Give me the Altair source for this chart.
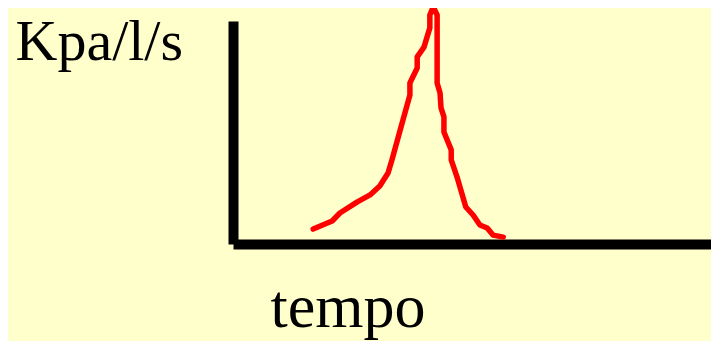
import altair as alt
import pandas as pd

# time (arbitrary units, 0-100 along the axis) and pressure (Kpa/l/s, 0-100 scale)
tempo = [16.5, 20.4, 22.0, 25.5, 28.2, 30.2, 31.9, 32.7, 34.4, 36.4, 36.4, 37.9,
         37.9, 39.3, 40.5, 40.5, 41.2, 42.0, 42.0, 42.6, 42.8, 43.4, 43.4, 44.9,
         44.9, 46.1, 47.9, 49.4, 50.8, 52.3, 53.5, 55.6]
pressione = [6.7, 10.3, 13.9, 18.8, 22.0, 26.0, 31.8, 37.7, 51.1, 66.8, 72.2, 78.9,
             83.9, 88.3, 96.9, 102.7, 106.3, 102.7, 72.2, 67.7, 61.0, 57.0, 50.2, 42.2,
             37.7, 30.0, 16.6, 13.0, 8.5, 7.2, 4.0, 3.1]

df = pd.DataFrame({"i": list(range(len(tempo))), "tempo": tempo, "p": pressione})

font = "Liberation Serif"

chart = alt.Chart(df).mark_line(color="#FF0000", strokeWidth=5.5, clip=False,
                                strokeJoin="round", strokeCap="round").encode(
    x=alt.X("tempo:Q", scale=alt.Scale(domain=[0, 98.35], nice=False, zero=False),
            axis=alt.Axis(title="tempo", labels=False, ticks=False, grid=False,
                          domainColor="black", domainWidth=10,
                          titleFont=font, titleFontSize=62, titleFontWeight="normal",
                          titleColor="black", titleAlign="left", titleBaseline="alphabetic",
                          titleX=37, titleY=82)),
    y=alt.Y("p:Q", scale=alt.Scale(domain=[0, 100], nice=False, zero=False),
            axis=alt.Axis(title="Kpa/l/s", labels=False, ticks=False, grid=False,
                          domainColor="black", domainWidth=10,
                          titleFont=font, titleFontSize=58, titleFontWeight="normal",
                          titleColor="black", titleAngle=0, titleAlign="left",
                          titleBaseline="alphabetic", titleX=-218, titleY=38)),
    order="i:Q",
).properties(
    width=478, height=223, background="#FFFFCC",
    autosize=alt.AutoSizeParams(type="none"),
    padding={"left": 225, "top": 13, "right": 0, "bottom": 97},
).configure_view(stroke=None)

chart.save("out.html", embed_options={"renderer": "svg", "actions": False})
